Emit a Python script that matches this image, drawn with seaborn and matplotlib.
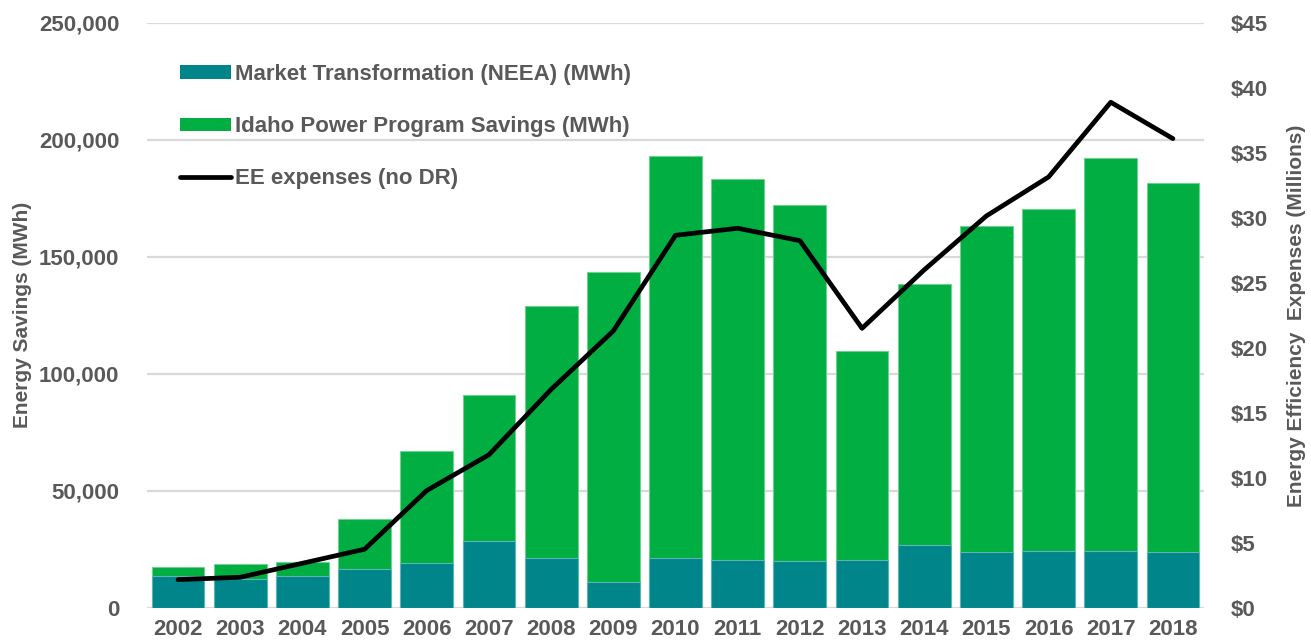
import matplotlib
matplotlib.use("Agg")
import matplotlib.pyplot as plt
import seaborn as sns
import pandas as pd
import numpy as np
from matplotlib.ticker import FuncFormatter, MultipleLocator
from matplotlib.patches import Patch
from matplotlib.lines import Line2D

years = ["2002", "2003", "2004", "2005", "2006", "2007", "2008", "2009", "2010",
         "2011", "2012", "2013", "2014", "2015", "2016", "2017", "2018"]
neea_mwh = [13.4, 12.4, 13.4, 16.4, 19.0, 28.4, 21.4, 10.9, 21.4,
            20.5, 19.8, 20.5, 27.0, 23.7, 24.4, 24.4, 23.7]  # thousands
total_mwh = [17.4, 18.8, 19.7, 38.1, 67.2, 90.9, 128.9, 143.4, 193.1,
             183.4, 172.1, 109.6, 138.4, 163.3, 170.5, 192.1, 181.7]  # thousands
ee_expenses = [2.16, 2.34, 3.42, 4.5, 9.02, 11.77, 16.8, 21.3, 28.66,
               29.2, 28.25, 21.5, 26.0, 30.15, 33.15, 38.9, 36.1]

labels = ["Market Transformation (NEEA) (MWh)",
          "Idaho Power Program Savings (MWh)",
          "EE expenses (no DR)"]

teal = "#00868A"
green = "#00AE41"
grey = "#595959"

df = pd.DataFrame({
    "year": years,
    "neea": np.array(neea_mwh) * 1000,
    "total": np.array(total_mwh) * 1000,
    "exp": ee_expenses,
})

sns.set_theme(style="white")
plt.rcParams["font.family"] = ["Liberation Sans", "DejaVu Sans"]
plt.rcParams["font.weight"] = "bold"

fig = plt.figure(figsize=(13.11, 6.44), dpi=100)
ax = fig.add_axes([0.1121, 0.0564, 0.8063, 0.9079])

sns.barplot(data=df, x="year", y="total", color=green, width=0.85,
            edgecolor="#6fd090", linewidth=0.8, saturation=1, ax=ax, zorder=2)
sns.barplot(data=df, x="year", y="neea", color=teal, width=0.85,
            edgecolor="#5fb3b3", linewidth=0.8, saturation=1, ax=ax, zorder=3)

ax.set_ylim(0, 250000)
ax.yaxis.set_major_locator(MultipleLocator(50000))
ax.yaxis.set_major_formatter(FuncFormatter(lambda v, p: f"{int(v):,}"))
ax.grid(axis="y", color="#D9D9D9", linewidth=1.6, zorder=0)
ax.set_axisbelow(True)
for s in ax.spines.values():
    s.set_visible(False)
ax.set_xlabel("")
ax.set_ylabel("Energy Savings (MWh)", fontsize=15, color=grey,
              fontweight="bold", labelpad=5)
ax.tick_params(axis="both", length=0, labelsize=16, labelcolor=grey)
ax.tick_params(axis="y", pad=20)
ax.tick_params(axis="x", pad=8)
for t in ax.get_xticklabels() + ax.get_yticklabels():
    t.set_fontweight("bold")

ax2 = ax.twinx()
sns.pointplot(data=df, x="year", y="exp", color="black", markers="",
              linewidth=3.4, ax=ax2)
ax2.set_ylim(0, 45)
ax2.yaxis.set_major_locator(MultipleLocator(5))
ax2.yaxis.set_major_formatter(FuncFormatter(lambda v, p: f"${int(v)}"))
ax2.set_xlim(-0.5, len(years) - 0.5)
ax.set_xlim(-0.5, len(years) - 0.5)
for s in ax2.spines.values():
    s.set_visible(False)
ax2.grid(False)
ax2.set_xlabel("")
ax2.set_ylabel("Energy Efficiency  Expenses (Millions)", fontsize=15,
               color=grey, fontweight="bold", labelpad=14)
ax2.tick_params(axis="y", length=0, labelsize=16, labelcolor=grey, pad=19)
for t in ax2.get_yticklabels():
    t.set_fontweight("bold")

handles = [Patch(facecolor=teal, edgecolor="none"),
           Patch(facecolor=green, edgecolor="none"),
           Line2D([0], [0], color="black", linewidth=3.4)]
leg = ax2.legend(handles, labels, loc="upper left",
                 bbox_to_anchor=(0.031, 0.93), frameon=False,
                 borderaxespad=0, borderpad=0, handlelength=2.3,
                 handleheight=0.53, handletextpad=0.2, labelspacing=1.4,
                 prop={"size": 16, "weight": "bold"})
for t in leg.get_texts():
    t.set_color(grey)

fig.savefig("out.png", dpi=100)
